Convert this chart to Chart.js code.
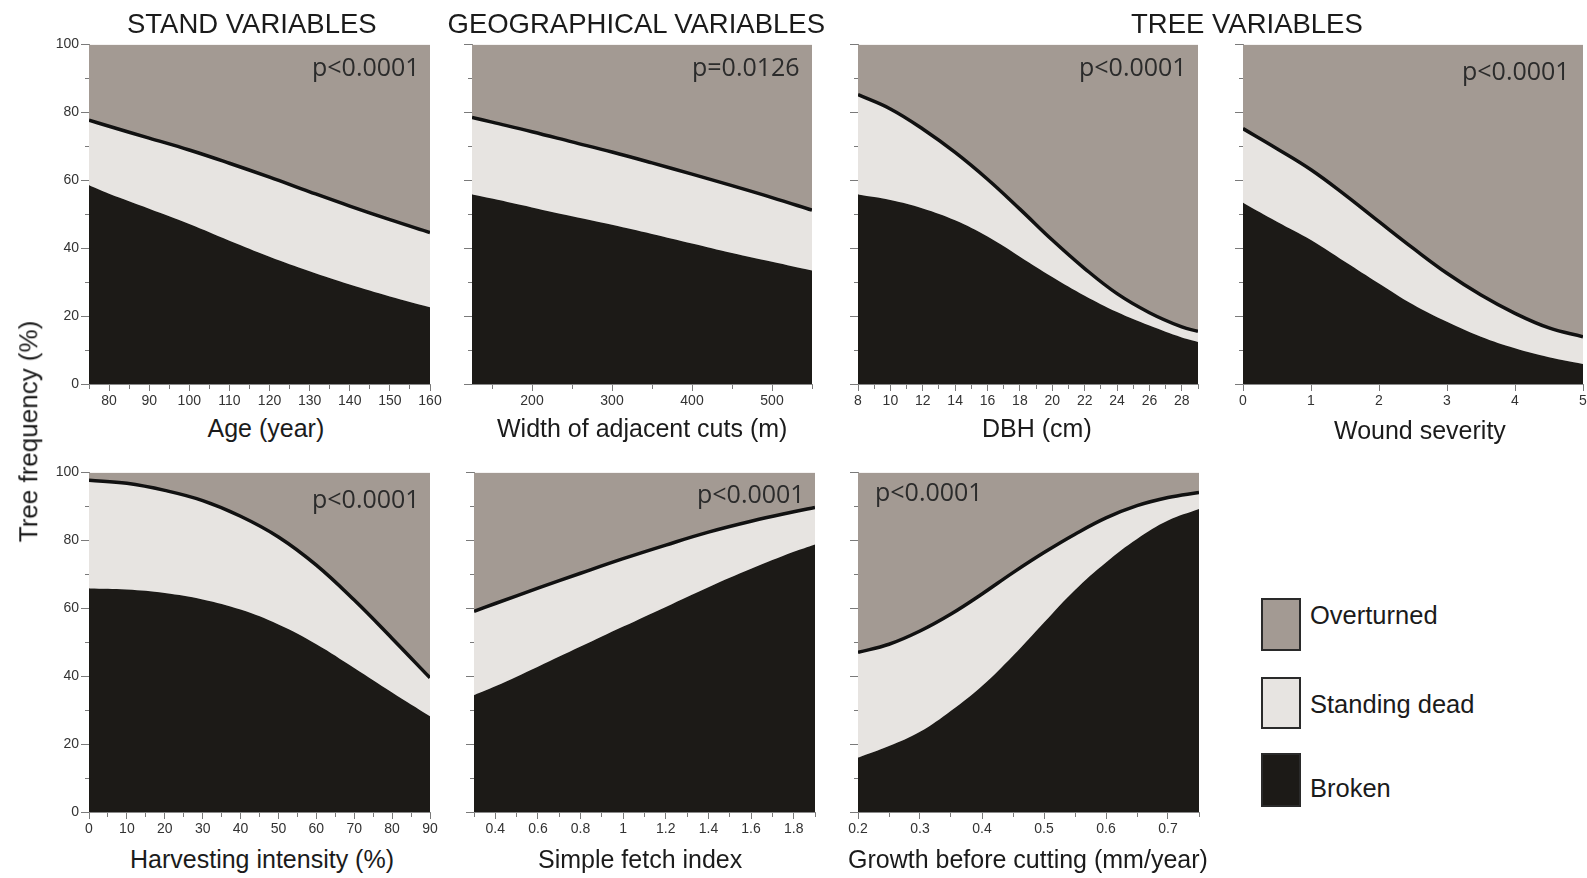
<!DOCTYPE html>
<html>
<head>
<meta charset="utf-8">
<title>Tree frequency by damage type</title>
<script src="https://cdn.jsdelivr.net/npm/chart.js@4.4.1/dist/chart.umd.min.js"></script>
<style>
  html, body { margin: 0; padding: 0; background: #fff; }
  #page { position: relative; width: 1587px; height: 878px; overflow: hidden; background: #fff;
          font-family: "Liberation Sans", Arial, sans-serif; color: #1b1b1b; }
  #page canvas { position: absolute; }
  .t { position: absolute; white-space: nowrap; line-height: normal; }
  .key { position: absolute; box-sizing: border-box; border: 2px solid #2a2a2a; }
</style>
</head>
<body>
<div id="page"></div>
<script>
// ---- fill colours for the three damage classes ----
const COL_OVERTURNED = '#a39a93';
const COL_STANDING = '#e7e4e1';
const COL_BROKEN = '#1c1a17';

// ---- Stand: age (years) ----
const ageX      = [75, 80, 90, 100, 110, 120, 130, 140, 150, 160];
const ageTotal  = [77.7, 75.9, 72.4, 68.9, 65.0, 60.9, 56.6, 52.4, 48.4, 44.6];
const ageBroken = [58.5, 56.0, 51.6, 47.1, 42.2, 37.5, 33.2, 29.3, 25.8, 22.6];
const ageTicks  = [80, 90, 100, 110, 120, 130, 140, 150, 160];
const ageMinor  = [75, 85, 95, 105, 115, 125, 135, 145, 155];

// ---- Geographical: width of adjacent cuts (m) ----
const cutX      = [125, 150, 200, 250, 300, 350, 400, 450, 500, 550];
const cutTotal  = [78.5, 77.1, 74.3, 71.3, 68.3, 65.1, 61.8, 58.4, 54.9, 51.2];
const cutBroken = [55.8, 54.6, 52.0, 49.4, 46.9, 44.2, 41.4, 38.6, 36.0, 33.4];
const cutTicks  = [200, 300, 400, 500];
const cutMinor  = [150, 250, 350, 450, 550];

// ---- Tree: DBH (cm) ----
const dbhX      = [8, 10, 12, 14, 16, 18, 20, 22, 24, 26, 28, 29];
const dbhTotal  = [85.2, 81.0, 75.1, 68.2, 60.3, 51.5, 42.4, 34.0, 26.6, 21.0, 16.8, 15.5];
const dbhBroken = [55.8, 54.2, 51.7, 48.2, 43.4, 37.5, 31.5, 26.0, 21.2, 17.2, 13.7, 12.4];
const dbhTicks  = [8, 10, 12, 14, 16, 18, 20, 22, 24, 26, 28];
const dbhMinor  = [9, 11, 13, 15, 17, 19, 21, 23, 25, 27, 29];

// ---- Tree: wound severity ----
const woundX      = [0, 0.5, 1, 1.5, 2, 2.5, 3, 3.5, 4, 4.5, 5];
const woundTotal  = [75.2, 69.3, 63.1, 55.7, 47.8, 40.0, 32.6, 26.2, 20.8, 16.5, 13.9];
const woundBroken = [53.4, 47.8, 42.4, 36.0, 29.6, 23.4, 18.3, 13.9, 10.5, 7.9, 5.9];
const woundTicks  = [0, 1, 2, 3, 4, 5];
const woundMinor  = [];

// ---- Stand: harvesting intensity (%) ----
const harvX      = [0, 10, 20, 30, 40, 50, 60, 70, 80, 90];
const harvTotal  = [97.7, 96.8, 94.7, 91.7, 87.1, 81.0, 72.7, 62.4, 51.1, 39.5];
const harvBroken = [65.8, 65.5, 64.5, 62.6, 59.6, 55.2, 49.4, 42.4, 35.2, 28.2];
const harvTicks  = [0, 10, 20, 30, 40, 50, 60, 70, 80, 90];
const harvMinor  = [5, 15, 25, 35, 45, 55, 65, 75, 85];

// ---- Geographical: simple fetch index ----
const fetchX      = [0.3, 0.4, 0.6, 0.8, 1.0, 1.2, 1.4, 1.6, 1.8, 1.9];
const fetchTotal  = [59.1, 61.4, 65.9, 70.3, 74.6, 78.6, 82.4, 85.6, 88.4, 89.7];
const fetchBroken = [34.4, 37.0, 42.8, 48.7, 54.6, 60.4, 66.2, 71.6, 76.6, 78.8];
const fetchTicks  = [0.4, 0.6, 0.8, 1, 1.2, 1.4, 1.6, 1.8];
const fetchMinor  = [0.3, 0.5, 0.7, 0.9, 1.1, 1.3, 1.5, 1.7, 1.9];

// ---- Tree: growth before cutting (mm/year) ----
const growX      = [0.2, 0.25, 0.3, 0.35, 0.4, 0.45, 0.5, 0.55, 0.6, 0.65, 0.7, 0.75];
const growTotal  = [47.0, 49.4, 53.3, 58.3, 64.2, 70.5, 76.4, 81.8, 86.6, 90.2, 92.6, 94.1];
const growBroken = [16.0, 19.4, 23.6, 29.8, 37.1, 46.0, 55.8, 65.4, 73.5, 80.4, 85.8, 89.2];
const growTicks  = [0.2, 0.3, 0.4, 0.5, 0.6, 0.7];
const growMinor  = [0.25, 0.35, 0.45, 0.55, 0.65, 0.75];

// ---- shared y axis (%) ----
const yTicks  = [0, 20, 40, 60, 80, 100];
const yMinor  = [10, 30, 50, 70, 90];

const page = document.getElementById('page');

// Text placed by its baseline, measured with an empty inline-block marker.
function addText(txt, x, baseline, o) {
  const d = document.createElement('div');
  d.className = 't';
  d.style.fontSize = o.size + 'px';
  if (o.family) d.style.fontFamily = o.family;
  d.style.color = o.color || '#1b1b1b';
  d.appendChild(document.createTextNode(txt));
  const m = document.createElement('span');
  m.style.cssText = 'display:inline-block;width:0;height:0;vertical-align:baseline;';
  d.appendChild(m);
  page.appendChild(d);
  const base = m.offsetTop;
  const w = d.offsetWidth;
  let left = x;
  if (o.align === 'center') left = x - w / 2;
  else if (o.align === 'right') left = x - w;
  d.style.left = left + 'px';
  d.style.top = (baseline - base) + 'px';
  return d;
}

const PAD_T = 10, PAD_R = 16, YW = 50, XH = 30;
const TICK_FONT = { family: 'Liberation Sans', size: 14 };

function makePanel(p) {
  const [L, T, R, B] = p.rect;
  const w = R - L + YW + PAD_R, h = B - T + PAD_T + XH;
  const cv = document.createElement('canvas');
  cv.width = w; cv.height = h;
  cv.style.left = (L - YW) + 'px';
  cv.style.top = (T - PAD_T) + 'px';
  cv.style.width = w + 'px';
  cv.style.height = h + 'px';
  page.appendChild(cv);

  const pts = ys => p.x.map((x, i) => ({ x: x, y: ys[i] }));
  const xMajor = new Set(p.major);
  const xAll = p.major.concat(p.minor).sort((a, b) => a - b);
  const yMajor = new Set(yTicks);
  const yAll = yTicks.concat(yMinor).sort((a, b) => a - b);
  const area = { pointRadius: 0, tension: 0.4 };

  new Chart(cv, {
    type: 'line',
    data: {
      datasets: [
        Object.assign({ label: 'Broken', data: pts(p.broken), fill: 'origin',
          backgroundColor: COL_BROKEN, borderWidth: 0 }, area),
        Object.assign({ label: 'Standing dead', data: pts(p.total), fill: '-1',
          backgroundColor: COL_STANDING, borderColor: '#111', borderWidth: 3.5 }, area),
        Object.assign({ label: 'Overturned', data: pts(p.total), fill: 'end',
          backgroundColor: COL_OVERTURNED, borderWidth: 0 }, area)
      ]
    },
    options: {
      responsive: false,
      animation: false,
      devicePixelRatio: 1,
      events: [],
      layout: { padding: { top: PAD_T, right: PAD_R, left: 0, bottom: 0 } },
      plugins: { legend: { display: false }, tooltip: { enabled: false } },
      scales: {
        x: {
          type: 'linear', position: 'bottom', min: p.min, max: p.max,
          afterBuildTicks: s => { s.ticks = xAll.map(v => ({ value: v })); },
          afterFit: s => { s.height = XH; },
          grid: {
            display: true, drawOnChartArea: false, drawTicks: true,
            tickLength: 7, tickColor: '#7a7a7a', tickWidth: 1,
            tickBorderDash: c => (c.tick && xMajor.has(c.tick.value)) ? [] : [4, 20]
          },
          border: { display: true, color: '#8a8a8a', width: 1 },
          ticks: {
            autoSkip: false, maxRotation: 0, minRotation: 0, padding: 2,
            color: '#333', font: TICK_FONT,
            callback: v => xMajor.has(v) ? String(v) : ''
          }
        },
        y: {
          type: 'linear', position: 'left', min: 0, max: 100,
          afterBuildTicks: s => { s.ticks = yAll.map(v => ({ value: v })); },
          afterFit: s => { s.width = YW; },
          grid: {
            display: true, drawOnChartArea: false, drawTicks: true,
            tickLength: 8, tickColor: '#7a7a7a', tickWidth: 1,
            tickBorderDash: c => (c.tick && yMajor.has(c.tick.value)) ? [] : [0, 4, 4, 20]
          },
          border: { display: true, color: '#8a8a8a', width: 1 },
          ticks: {
            autoSkip: false, padding: 2, color: '#333', font: TICK_FONT,
            callback: v => (p.yLabels && yMajor.has(v)) ? String(v) : ''
          }
        }
      }
    }
  });

  addText(p.title, p.titleX, p.titleY, { size: 25, align: 'center' });
  addText(p.pText, p.pX, p.pY, { size: 25, family: '"Open Sans", sans-serif',
    color: '#2b2b2b', align: p.pAlign });
}

const panels = [
  { x: ageX, total: ageTotal, broken: ageBroken, min: 75, max: 160, major: ageTicks, minor: ageMinor,
    rect: [89, 44, 430, 384], yLabels: true,
    title: 'Age (year)', titleX: 266, titleY: 437,
    pText: 'p<0.0001', pX: 420, pY: 76, pAlign: 'right' },
  { x: cutX, total: cutTotal, broken: cutBroken, min: 125, max: 550, major: cutTicks, minor: cutMinor,
    rect: [472, 44, 812, 384], yLabels: false,
    title: 'Width of adjacent cuts (m)', titleX: 642, titleY: 437,
    pText: 'p=0.0126', pX: 800, pY: 76, pAlign: 'right' },
  { x: dbhX, total: dbhTotal, broken: dbhBroken, min: 8, max: 29, major: dbhTicks, minor: dbhMinor,
    rect: [858, 44, 1198, 384], yLabels: false,
    title: 'DBH (cm)', titleX: 1037, titleY: 437,
    pText: 'p<0.0001', pX: 1187, pY: 76, pAlign: 'right' },
  { x: woundX, total: woundTotal, broken: woundBroken, min: 0, max: 5, major: woundTicks, minor: woundMinor,
    rect: [1243, 44, 1583, 384], yLabels: false,
    title: 'Wound severity', titleX: 1420, titleY: 439,
    pText: 'p<0.0001', pX: 1570, pY: 80, pAlign: 'right' },
  { x: harvX, total: harvTotal, broken: harvBroken, min: 0, max: 90, major: harvTicks, minor: harvMinor,
    rect: [89, 472, 430, 812], yLabels: true,
    title: 'Harvesting intensity (%)', titleX: 262, titleY: 868,
    pText: 'p<0.0001', pX: 420, pY: 508, pAlign: 'right' },
  { x: fetchX, total: fetchTotal, broken: fetchBroken, min: 0.3, max: 1.9, major: fetchTicks, minor: fetchMinor,
    rect: [474, 472, 815, 812], yLabels: false,
    title: 'Simple fetch index', titleX: 640, titleY: 868,
    pText: 'p<0.0001', pX: 805, pY: 503, pAlign: 'right' },
  { x: growX, total: growTotal, broken: growBroken, min: 0.2, max: 0.75, major: growTicks, minor: growMinor,
    rect: [858, 472, 1199, 812], yLabels: false,
    title: 'Growth before cutting (mm/year)', titleX: 1028, titleY: 868,
    pText: 'p<0.0001', pX: 875, pY: 501, pAlign: 'left' }
];

panels.forEach(makePanel);

// column headings
addText('STAND VARIABLES', 252, 33, { size: 27.5, align: 'center' });
addText('GEOGRAPHICAL VARIABLES', 636, 33, { size: 27.5, align: 'center' });
addText('TREE VARIABLES', 1247, 33, { size: 27.5, align: 'center' });

// shared y-axis title, rotated
(function () {
  const d = addText('Tree frequency (%)', 0, 0, { size: 26, align: 'left' });
  const w = d.offsetWidth, h = d.offsetHeight;
  const cx = 29, cy = 431;
  d.style.left = (cx - w / 2) + 'px';
  d.style.top = (cy - h / 2) + 'px';
  d.style.transformOrigin = '50% 50%';
  d.style.transform = 'rotate(-90deg)';
})();

// legend
const legendItems = [
  { name: 'Overturned', color: COL_OVERTURNED, box: [1261, 598, 40, 53], base: 624 },
  { name: 'Standing dead', color: COL_STANDING, box: [1261, 677, 40, 52], base: 713 },
  { name: 'Broken', color: COL_BROKEN, box: [1261, 753, 40, 54], base: 797 }
];
legendItems.forEach(it => {
  const b = document.createElement('div');
  b.className = 'key';
  b.style.left = it.box[0] + 'px';
  b.style.top = it.box[1] + 'px';
  b.style.width = it.box[2] + 'px';
  b.style.height = it.box[3] + 'px';
  b.style.background = it.color;
  page.appendChild(b);
  addText(it.name, 1310, it.base, { size: 25.5, align: 'left' });
});
</script>
</body>
</html>
